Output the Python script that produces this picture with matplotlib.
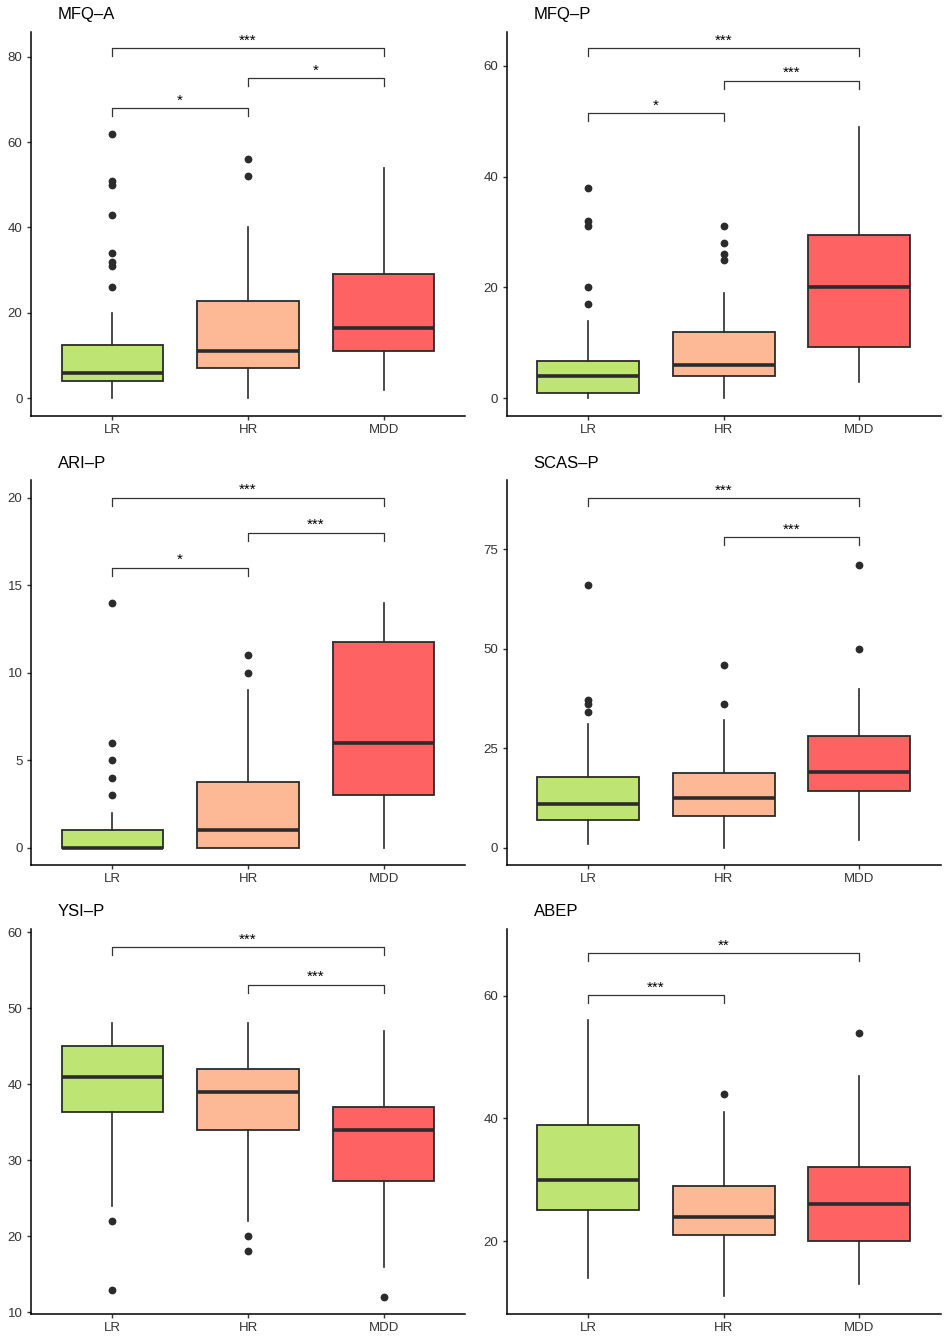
import numpy as np
import matplotlib
matplotlib.use("Agg")
import matplotlib.pyplot as plt

plt.rcParams['font.family'] = ['Liberation Sans', 'DejaVu Sans']

groups = ["LR", "HR", "MDD"]
fills = ["#BEE573", "#FDB995", "#FF6262"]

# MFQ-A
mfqa_lo = [0, 0, 2]
mfqa_q1 = [4, 7, 11]
mfqa_med = [6, 11, 16.5]
mfqa_q3 = [12.5, 22.75, 29.1]
mfqa_hi = [20, 40, 54]
mfqa_out = [[26, 31, 32, 34, 43, 50, 51, 62], [52, 56], []]
mfqa_sig = [(0, 2, 82, "***"), (1, 2, 75, "*"), (0, 1, 68, "*")]

# MFQ-P
mfqp_lo = [0, 0, 3]
mfqp_q1 = [1, 4, 9.2]
mfqp_med = [4, 6, 20]
mfqp_q3 = [6.7, 12, 29.4]
mfqp_hi = [14, 19, 49]
mfqp_out = [[17, 20, 31, 32, 38], [25, 26, 28, 31], []]
mfqp_sig = [(0, 2, 63.2, "***"), (1, 2, 57.3, "***"), (0, 1, 51.4, "*")]

# ARI-P
arip_lo = [0, 0, 0]
arip_q1 = [0, 0, 3]
arip_med = [0, 1, 6]
arip_q3 = [1, 3.75, 11.75]
arip_hi = [2, 9, 14]
arip_out = [[3, 4, 5, 6, 14], [10, 11], []]
arip_sig = [(0, 2, 20, "***"), (1, 2, 18, "***"), (0, 1, 16, "*")]

# SCAS-P
scas_lo = [1, 0, 2]
scas_q1 = [7, 8, 14.3]
scas_med = [11, 12.5, 19]
scas_q3 = [17.7, 18.7, 28]
scas_hi = [31, 32, 40]
scas_out = [[34, 36, 37, 66], [36, 46], [50, 71]]
scas_sig = [(0, 2, 87.9, "***"), (1, 2, 78, "***")]

# YSI-P
ysi_lo = [24, 22, 16]
ysi_q1 = [36.3, 34, 27.25]
ysi_med = [41, 39, 34]
ysi_q3 = [45, 42, 37]
ysi_hi = [48, 48, 47]
ysi_out = [[13, 22], [18, 20], [12]]
ysi_sig = [(0, 2, 58, "***"), (1, 2, 53.1, "***")]

# ABEP
abep_lo = [14, 11, 13]
abep_q1 = [25, 21, 20]
abep_med = [30, 24, 26]
abep_q3 = [39, 29, 32]
abep_hi = [56, 41, 47]
abep_out = [[], [44], [54]]
abep_sig = [(0, 2, 67, "**"), (0, 1, 60.1, "***")]

panels = [
    ("MFQ–A", mfqa_lo, mfqa_q1, mfqa_med, mfqa_q3, mfqa_hi, mfqa_out, mfqa_sig,
     (-4.08, 85.8), [0, 20, 40, 60, 80]),
    ("MFQ–P", mfqp_lo, mfqp_q1, mfqp_med, mfqp_q3, mfqp_hi, mfqp_out, mfqp_sig,
     (-3.14, 66.1), [0, 20, 40, 60]),
    ("ARI–P", arip_lo, arip_q1, arip_med, arip_q3, arip_hi, arip_out, arip_sig,
     (-1.0, 21.0), [0, 5, 10, 15, 20]),
    ("SCAS–P", scas_lo, scas_q1, scas_med, scas_q3, scas_hi, scas_out, scas_sig,
     (-4.35, 92.4), [0, 25, 50, 75]),
    ("YSI–P", ysi_lo, ysi_q1, ysi_med, ysi_q3, ysi_hi, ysi_out, ysi_sig,
     (9.78, 60.4), [10, 20, 30, 40, 50, 60]),
    ("ABEP", abep_lo, abep_q1, abep_med, abep_q3, abep_hi, abep_out, abep_sig,
     (8.1, 70.9), [20, 40, 60]),
]

W, H = 949, 1339
fig = plt.figure(figsize=(W / 100, H / 100), dpi=100)

col_left = [31, 506.7]
col_w = 434
row_top = [32, 480, 929]
row_bot = [415.6, 865, 1314]

dark = "#2b2b2b"

for k, (title, lo, q1, med, q3, hi, out, sig, ylim, yticks) in enumerate(panels):
    r, c = divmod(k, 2)
    ax = fig.add_axes([col_left[c] / W, 1 - row_bot[r] / H,
                       col_w / W, (row_bot[r] - row_top[r]) / H])
    stats = []
    for i in range(3):
        stats.append(dict(med=med[i], q1=q1[i], q3=q3[i], whislo=lo[i],
                          whishi=hi[i], fliers=out[i], label=groups[i]))
    bp = ax.bxp(stats, positions=[1, 2, 3], widths=0.75, patch_artist=True,
                showcaps=False,
                boxprops=dict(edgecolor=dark, linewidth=1.3),
                medianprops=dict(color=dark, linewidth=2.6, solid_capstyle='butt'),
                whiskerprops=dict(color=dark, linewidth=1.2),
                flierprops=dict(marker='o', markerfacecolor=dark,
                                markeredgecolor=dark, markersize=4.6))
    for patch, f in zip(bp['boxes'], fills):
        patch.set_facecolor(f)

    ax.set_xlim(0.4, 3.6)
    ax.set_ylim(*ylim)
    ax.set_yticks(yticks)
    ax.set_xticks([1, 2, 3])
    ax.set_xticklabels(groups)
    for s in ["top", "right"]:
        ax.spines[s].set_visible(False)
    for s in ["left", "bottom"]:
        ax.spines[s].set_linewidth(1.1)
        ax.spines[s].set_color("black")
    ax.tick_params(axis='both', direction='out', length=3.1, width=1.0,
                   color="#333333", labelcolor="#333333", labelsize=9.5, pad=3)

    tip = 0.021 * (ylim[1] - ylim[0])
    for (i, j, y, lab) in sig:
        x1, x2 = i + 1, j + 1
        ax.plot([x1, x1, x2, x2], [y - tip, y, y, y - tip], color="#333333",
                linewidth=0.9, zorder=5)
        ax.annotate(lab, xy=((x1 + x2) / 2, y), xytext=(0, 2.5),
                    textcoords='offset points', ha='center', va='baseline',
                    fontsize=11, color="black")

    ax.annotate(title, xy=(0, 1), xycoords='axes fraction',
                xytext=(27 * 0.72, 12.5 * 0.72), textcoords='offset points',
                ha='left', va='baseline', fontsize=12, color="black")

fig.savefig("out.png", dpi=100)
